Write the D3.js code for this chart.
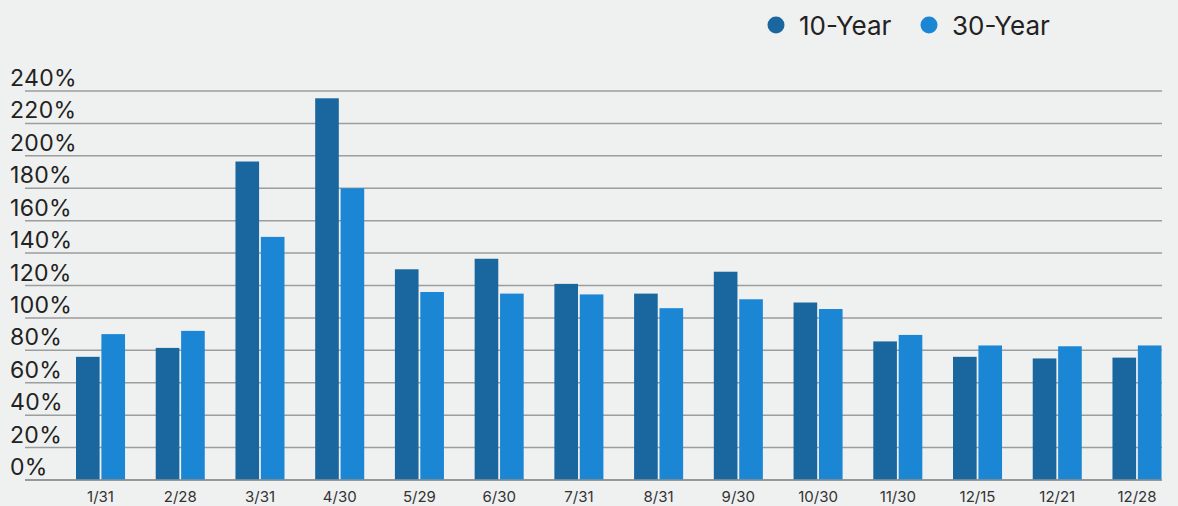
<!DOCTYPE html>
<html>
<head>
<meta charset="utf-8">
<script src="https://cdn.jsdelivr.net/npm/d3@7"></script>
<style>
  html, body { margin: 0; padding: 0; background: #eff0f0; }
  svg { display: block; }
</style>
</head>
<body>
<svg id="chart" width="1178" height="506"></svg>
<script>
const categories = ["1/31","2/28","3/31","4/30","5/29","6/30","7/31","8/31","9/30","10/30","11/30","12/15","12/21","12/28"];
const seriesNames = ["10-Year","30-Year"];
const tenYear   = [76, 81.5, 196.5, 235.5, 130, 136.5, 121, 115, 128.5, 109.5, 85.5, 76, 75, 75.5];
const thirtyYear= [90, 92, 150, 180, 116, 115, 114.5, 106, 111.5, 105.5, 89.5, 83, 82.5, 83];
const yTicks = [0,20,40,60,80,100,120,140,160,180,200,220,240];
const colors = ["#1a67a0","#1b86d4"];

const svg = d3.select("#chart");
const font = "Inter, 'Open Sans', sans-serif";

const y = d3.scaleLinear().domain([0, 240]).range([480, 91]);
const x = d3.scaleBand().domain(categories).range([76, 1161.5]).paddingInner(0.385).paddingOuter(0);
const xs = d3.scaleBand().domain(seriesNames).range([0, x.bandwidth()]).paddingInner(0.07);

// gridlines
const grid = svg.append("g");
grid.selectAll("line").data(yTicks).join("line")
  .attr("x1", 25).attr("x2", 1162)
  .attr("y1", d => y(d)).attr("y2", d => y(d))
  .attr("stroke", "#9c9d9d").attr("stroke-width", 1.5);

// y labels
svg.append("g").selectAll("text").data(yTicks).join("text")
  .attr("x", 10).attr("y", d => y(d) - 5)
  .attr("font-family", font).attr("font-size", 23).attr("letter-spacing", 0.3).attr("fill", "#222")
  .text(d => d + "%");

// bars
const data = categories.map((c, i) => ({cat: c, vals: [tenYear[i], thirtyYear[i]]}));
const groups = svg.append("g").selectAll("g").data(data).join("g")
  .attr("transform", d => `translate(${x(d.cat)},0)`);
groups.selectAll("rect").data(d => d.vals.map((v, j) => ({name: seriesNames[j], v, j}))).join("rect")
  .attr("x", d => xs(d.name)).attr("width", xs.bandwidth())
  .attr("y", d => y(d.v)).attr("height", d => y(0) - y(d.v))
  .attr("fill", d => colors[d.j]);

// baseline
svg.append("line").attr("x1", 25).attr("x2", 1162).attr("y1", y(0)).attr("y2", y(0))
  .attr("stroke", "#8f9090").attr("stroke-width", 1.5);

// x axis labels
const xAxis = d3.axisBottom(x).tickSize(0).tickPadding(0);
const xg = svg.append("g").attr("transform", `translate(0,${y(0) + 11})`).call(xAxis);
xg.select(".domain").remove();
xg.selectAll("text").attr("font-family", font).attr("font-size", 15).attr("fill", "#333");

// legend
const legX = [776, 929];
const leg = svg.append("g").selectAll("g").data(seriesNames).join("g")
  .attr("transform", (d, i) => `translate(${legX[i]},25)`);
leg.append("circle").attr("r", 8.5).attr("fill", (d, i) => colors[i]);
leg.append("text").attr("x", 23).attr("y", 9.5)
  .attr("font-family", font).attr("font-size", 26).attr("fill", "#222")
  .text(d => d);
</script>
</body>
</html>
